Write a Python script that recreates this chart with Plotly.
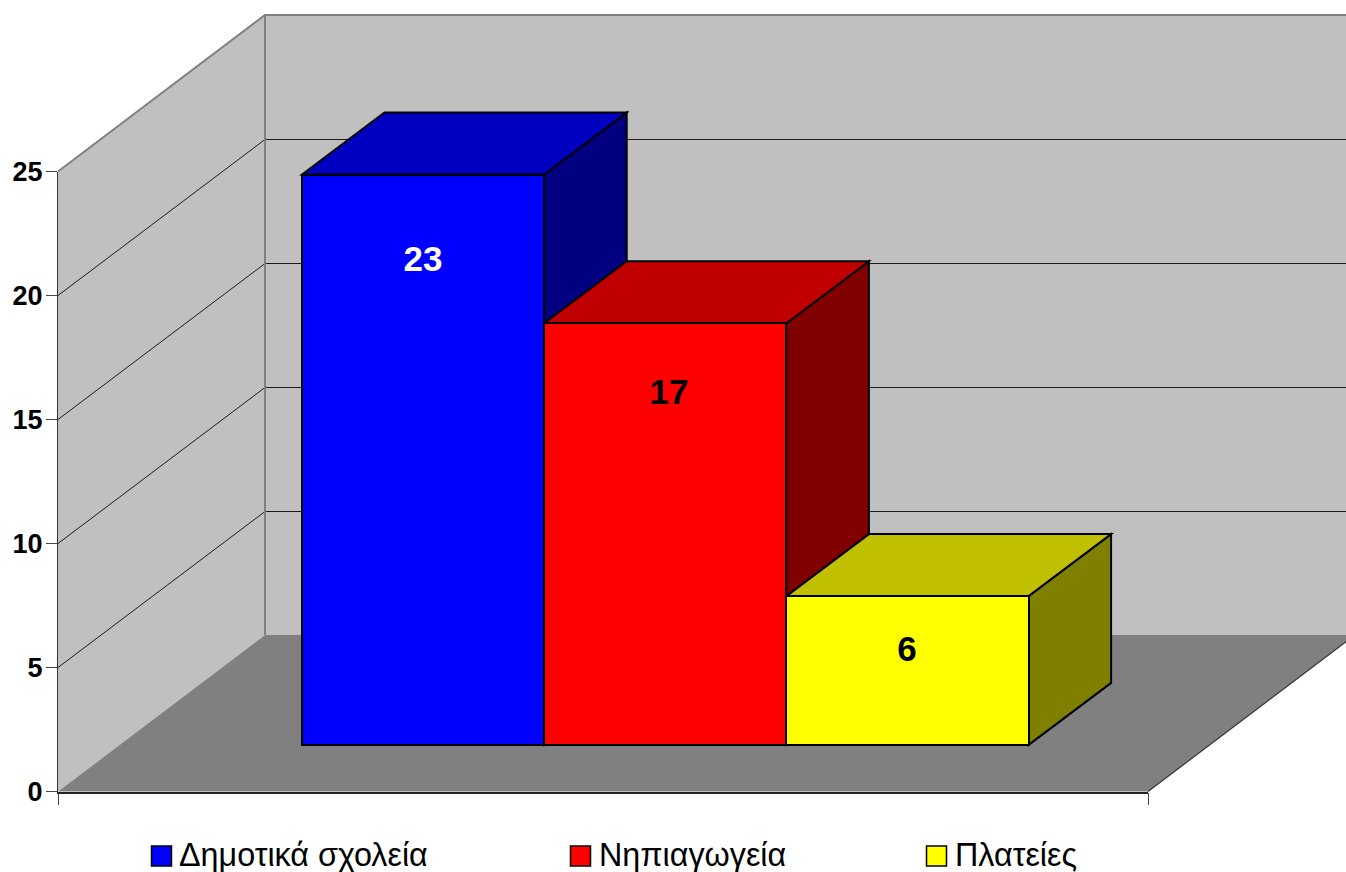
import plotly.graph_objects as go

# ---- data ----
categories = ["Δημοτικά σχολεία", "Νηπιαγωγεία", "Πλατείες"]
values = [23, 17, 6]
front_colors = ["#0000FF", "#FF0000", "#FFFF00"]
top_colors = ["#0000C0", "#C00000", "#C0C000"]
side_colors = ["#000080", "#800000", "#808000"]
label_colors = ["white", "black", "black"]
y_ticks = [0, 5, 10, 15, 20, 25]

# ---- layout geometry (pixels of the 1346x872 page) ----
W, H = 1346, 872
X0, Y0 = 58, 791.5        # front-left corner of the floor
X1 = 1148                 # front-right corner of the floor
PX_PER_UNIT = 24.8        # pixels per value unit
WALL_DX, WALL_DY = 207, 156.5
GRID_DY = 156
BAR_LEFT, BAR_W = 302, 242.2
BAR_BASE_PX = 744.9
BAR_DX, BAR_DY = 82.5, 62
LABEL_PX = [262, 395, 652]
LABEL_X_PX = [423, 669, 907]
LEGEND_X = [161.5, 580.5, 936.5]
LEGEND_TEXT_X = [179, 599, 955]
LEGEND_Y = 856
LEGEND_TEXT_Y = 858


def dx(p):  # page pixel -> x data unit (bar widths)
    return (p - BAR_LEFT) / BAR_W


def dy(p):  # page pixel -> y data unit (chart value)
    return (Y0 - p) / PX_PER_UNIT


def path(points):
    return "M" + " L".join(f"{dx(a):.5f},{dy(b):.5f}" for a, b in points) + " Z"


def poly(points, fill, line=None, width=0):
    return dict(type="path", path=path(points), fillcolor=fill, layer="below",
                line=dict(color=line or fill, width=width), xref="x", yref="y")


def seg(points, color, width):
    return dict(type="path", layer="below", line=dict(color=color, width=width), xref="x", yref="y",
                path="M" + " L".join(f"{dx(a):.5f},{dy(b):.5f}" for a, b in points))


top_px = Y0 - y_ticks[-1] * PX_PER_UNIT
shapes = [
    # back wall, left wall, floor
    poly([(X0 + WALL_DX, top_px - WALL_DY), (W + 15, top_px - WALL_DY), (W + 15, Y0 - WALL_DY), (X0 + WALL_DX, Y0 - WALL_DY)], "#C0C0C0"),
    poly([(X0, top_px), (X0 + WALL_DX, top_px - WALL_DY), (X0 + WALL_DX, Y0 - WALL_DY), (X0, Y0)], "#C0C0C0"),
    poly([(X0, Y0), (X0 + WALL_DX, Y0 - WALL_DY), (X1 + WALL_DX, Y0 - WALL_DY), (X1, Y0)], "#808080"),
]
# gridlines on both walls
for t in y_ticks[1:-1]:
    yy = Y0 - t * PX_PER_UNIT
    shapes.append(seg([(X0, yy), (X0 + WALL_DX, yy - GRID_DY), (W + 15, yy - GRID_DY)], "#1a1a1a", 1))
# wall edges
shapes.append(seg([(X0, top_px), (X0 + WALL_DX, top_px - WALL_DY), (W + 15, top_px - WALL_DY)], "#808080", 2))
shapes.append(seg([(X0 + WALL_DX, top_px - WALL_DY), (X0 + WALL_DX, Y0 - WALL_DY)], "#808080", 2))
shapes.append(seg([(X1, Y0), (X1 + WALL_DX, Y0 - WALL_DY)], "#333333", 1.2))

# 3D faces of the bars, drawn back to front, the fronts are real bars above them
for i, v in enumerate(values):
    xl = BAR_LEFT + i * BAR_W
    xr = xl + BAR_W
    yt = BAR_BASE_PX - v * PX_PER_UNIT
    shapes.append(poly([(xr, yt), (xr + BAR_DX, yt - BAR_DY), (xr + BAR_DX, BAR_BASE_PX - BAR_DY), (xr, BAR_BASE_PX)],
                       side_colors[i], "black", 2))
    shapes.append(poly([(xl, yt), (xl + BAR_DX, yt - BAR_DY), (xr + BAR_DX, yt - BAR_DY), (xr, yt)],
                       top_colors[i], "black", 2))

fig = go.Figure()
base_units = dy(BAR_BASE_PX)
for i, (c, v) in enumerate(zip(categories, values)):
    fig.add_trace(go.Bar(x=[i + 0.5], y=[v], base=base_units, width=1, name=c, showlegend=False,
                         marker=dict(color=front_colors[i], line=dict(color="black", width=2)),
                         xaxis="x", yaxis="y"))

# value labels
fig.add_trace(go.Scatter(x=[dx(p) for p in LABEL_X_PX], y=[dy(p) for p in LABEL_PX], mode="text",
                         text=[str(v) for v in values], showlegend=False, hoverinfo="skip",
                         textfont=dict(family="Liberation Sans, Arial", size=35, color=label_colors, weight="bold"),
                         textposition="middle center"))

# legend swatches with their text
for lx, tx, c, col in zip(LEGEND_X, LEGEND_TEXT_X, categories, front_colors):
    fig.add_trace(go.Scatter(x=[dx(lx)], y=[dy(LEGEND_Y)], mode="markers", showlegend=False, name=c,
                             marker=dict(symbol="square", size=20, color=col, line=dict(color="black", width=1.5)),
                             cliponaxis=False))
    fig.add_trace(go.Scatter(x=[dx(tx)], y=[dy(LEGEND_TEXT_Y)], mode="text", text=[c], showlegend=False,
                             textposition="middle right", cliponaxis=False, hoverinfo="skip",
                             textfont=dict(family="Liberation Sans, Arial", size=32.3, color="black")))

# overlay axes carrying the tick marks and labels; the small faint mark is the empty category tick
fig.add_trace(go.Scatter(x=[0.5], y=[-0.5], mode="markers", xaxis="x2", yaxis="y2", showlegend=False,
                         marker=dict(size=2, color="#cccccc"), hoverinfo="skip", cliponaxis=False))

fig.update_layout(
    width=W, height=H, autosize=False,
    margin=dict(l=0, r=0, t=0, b=0, pad=0, autoexpand=False),
    paper_bgcolor="white", plot_bgcolor="rgba(0,0,0,0)",
    barmode="overlay", bargap=0,
    shapes=shapes,
    xaxis=dict(domain=[0, 1], range=[dx(0), dx(W)], visible=False, fixedrange=True),
    yaxis=dict(domain=[0, 1], range=[dy(H), dy(0)], visible=False, fixedrange=True),
    xaxis2=dict(domain=[X0 / W, X1 / W], range=[0, 1], anchor="y2", tickmode="array", tickvals=[0, 1],
                ticktext=["", ""], ticks="outside", ticklen=12, tickwidth=1, tickcolor="#444444", automargin=False,
                showline=True, linecolor="#222222", linewidth=1.5, showgrid=False, zeroline=False),
    yaxis2=dict(domain=[(H - Y0) / H, (H - top_px) / H], range=[0, 25], anchor="x2", tickmode="array",
                tickvals=y_ticks, ticks="outside", ticklen=11, tickwidth=1, tickcolor="#444444", automargin=False,
                showline=True, linecolor="#333333", linewidth=1.2, showgrid=False, zeroline=False,
                ticklabelstandoff=-2,
                tickfont=dict(family="Liberation Sans, Arial", size=27, color="black", weight="bold")),
)

fig.write_html("out.html", config={"displayModeBar": False},
               post_script="document.body.style.margin='0';document.documentElement.style.overflow='hidden';")
